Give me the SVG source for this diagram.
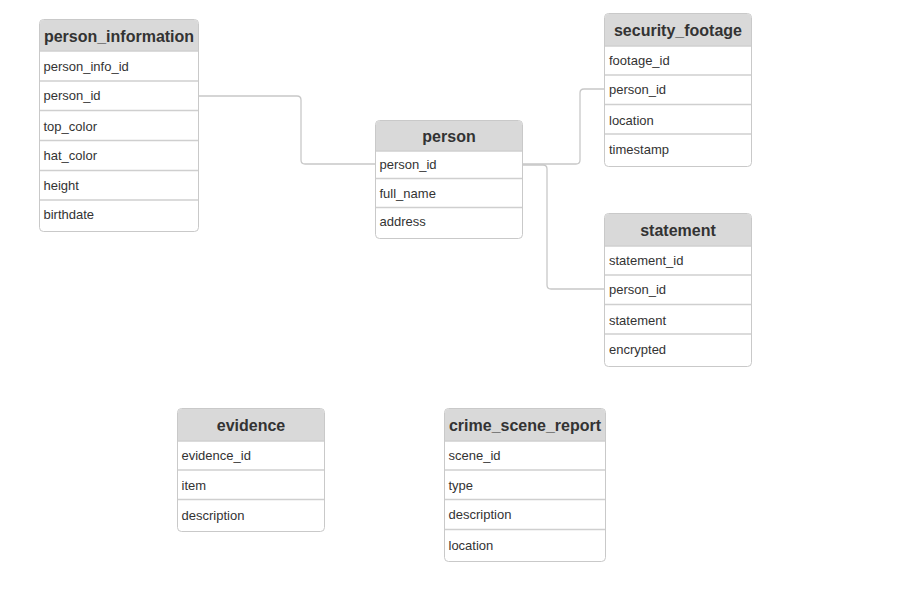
<svg xmlns="http://www.w3.org/2000/svg" width="897" height="609" viewBox="0 0 897 609">
<style>
.box{fill:#fff;stroke:#c9c9c9;stroke-width:1}
.hdr{fill:#d9d9d9}
.sep{stroke:#cfcfcf;stroke-width:1.5}
.ttl{font-family:"Liberation Sans",Arial,sans-serif;font-size:16px;font-weight:bold;fill:#333;text-anchor:middle}
.fld{font-family:"Liberation Sans",Arial,sans-serif;font-size:13px;fill:#333}
.con{fill:none;stroke:#c8c8c8;stroke-width:1.3}
</style>
<rect width="897" height="609" fill="#fff"/>
<g id="connectors">
<path class="con" d="M199,96 H297 Q301,96 301,100 V160 Q301,164 305,164 H376"/>
<path class="con" d="M522,164 H576 Q580,164 580,160 V93 Q580,89 584,89 H605"/>
<path class="con" d="M522,165 H543 Q547,165 547,169 V285 Q547,289 551,289 H605"/>
</g>
<g id="person_information">
<rect class="box" x="39.5" y="19.5" width="159" height="212" rx="4"/>
<path class="hdr" d="M40,51 V24 Q40,20 44,20 H194 Q198,20 198,24 V51 Z"/>
<line class="sep" x1="40" y1="51" x2="198" y2="51"/>
<line class="sep" x1="40" y1="81" x2="198" y2="81"/>
<line class="sep" x1="40" y1="110.5" x2="198" y2="110.5"/>
<line class="sep" x1="40" y1="140.5" x2="198" y2="140.5"/>
<line class="sep" x1="40" y1="170.5" x2="198" y2="170.5"/>
<line class="sep" x1="40" y1="200" x2="198" y2="200"/>
<text class="ttl" x="119" y="42">person_information</text>
<text class="fld" x="43.5" y="71">person_info_id</text>
<text class="fld" x="43.5" y="100">person_id</text>
<text class="fld" x="43.5" y="131">top_color</text>
<text class="fld" x="43.5" y="160">hat_color</text>
<text class="fld" x="43.5" y="190">height</text>
<text class="fld" x="43.5" y="219">birthdate</text>
</g>
<g id="person">
<rect class="box" x="375.5" y="120.5" width="147" height="118" rx="4"/>
<path class="hdr" d="M376,151 V125 Q376,121 380,121 H518 Q522,121 522,125 V151 Z"/>
<line class="sep" x1="376" y1="151" x2="522" y2="151"/>
<line class="sep" x1="376" y1="178.5" x2="522" y2="178.5"/>
<line class="sep" x1="376" y1="207.5" x2="522" y2="207.5"/>
<text class="ttl" x="449" y="142">person</text>
<text class="fld" x="379.5" y="169">person_id</text>
<text class="fld" x="379.5" y="198">full_name</text>
<text class="fld" x="379.5" y="226">address</text>
</g>
<g id="security_footage">
<rect class="box" x="604.5" y="13.5" width="147" height="153" rx="4"/>
<path class="hdr" d="M605,46 V18 Q605,14 609,14 H747 Q751,14 751,18 V46 Z"/>
<line class="sep" x1="605" y1="46" x2="751" y2="46"/>
<line class="sep" x1="605" y1="75" x2="751" y2="75"/>
<line class="sep" x1="605" y1="104.5" x2="751" y2="104.5"/>
<line class="sep" x1="605" y1="134" x2="751" y2="134"/>
<text class="ttl" x="678" y="36">security_footage</text>
<text class="fld" x="609" y="65">footage_id</text>
<text class="fld" x="609" y="94">person_id</text>
<text class="fld" x="609" y="125">location</text>
<text class="fld" x="609" y="154">timestamp</text>
</g>
<g id="statement">
<rect class="box" x="604.5" y="213.5" width="147" height="153" rx="4"/>
<path class="hdr" d="M605,246 V218 Q605,214 609,214 H747 Q751,214 751,218 V246 Z"/>
<line class="sep" x1="605" y1="246" x2="751" y2="246"/>
<line class="sep" x1="605" y1="275" x2="751" y2="275"/>
<line class="sep" x1="605" y1="304.5" x2="751" y2="304.5"/>
<line class="sep" x1="605" y1="334" x2="751" y2="334"/>
<text class="ttl" x="678" y="236">statement</text>
<text class="fld" x="609" y="265">statement_id</text>
<text class="fld" x="609" y="294">person_id</text>
<text class="fld" x="609" y="325">statement</text>
<text class="fld" x="609" y="354">encrypted</text>
</g>
<g id="evidence">
<rect class="box" x="177.5" y="408.5" width="147" height="123" rx="4"/>
<path class="hdr" d="M178,441 V413 Q178,409 182,409 H320 Q324,409 324,413 V441 Z"/>
<line class="sep" x1="178" y1="441" x2="324" y2="441"/>
<line class="sep" x1="178" y1="470" x2="324" y2="470"/>
<line class="sep" x1="178" y1="499.5" x2="324" y2="499.5"/>
<text class="ttl" x="251" y="431">evidence</text>
<text class="fld" x="181.5" y="460">evidence_id</text>
<text class="fld" x="181.5" y="490">item</text>
<text class="fld" x="181.5" y="520">description</text>
</g>
<g id="crime_scene_report">
<rect class="box" x="444.5" y="408.5" width="161" height="153" rx="4"/>
<path class="hdr" d="M445,441 V413 Q445,409 449,409 H601 Q605,409 605,413 V441 Z"/>
<line class="sep" x1="445" y1="441" x2="605" y2="441"/>
<line class="sep" x1="445" y1="470" x2="605" y2="470"/>
<line class="sep" x1="445" y1="499.5" x2="605" y2="499.5"/>
<line class="sep" x1="445" y1="529.5" x2="605" y2="529.5"/>
<text class="ttl" x="525" y="431">crime_scene_report</text>
<text class="fld" x="448.5" y="460">scene_id</text>
<text class="fld" x="448.5" y="490">type</text>
<text class="fld" x="448.5" y="519">description</text>
<text class="fld" x="448.5" y="550">location</text>
</g>
</svg>
